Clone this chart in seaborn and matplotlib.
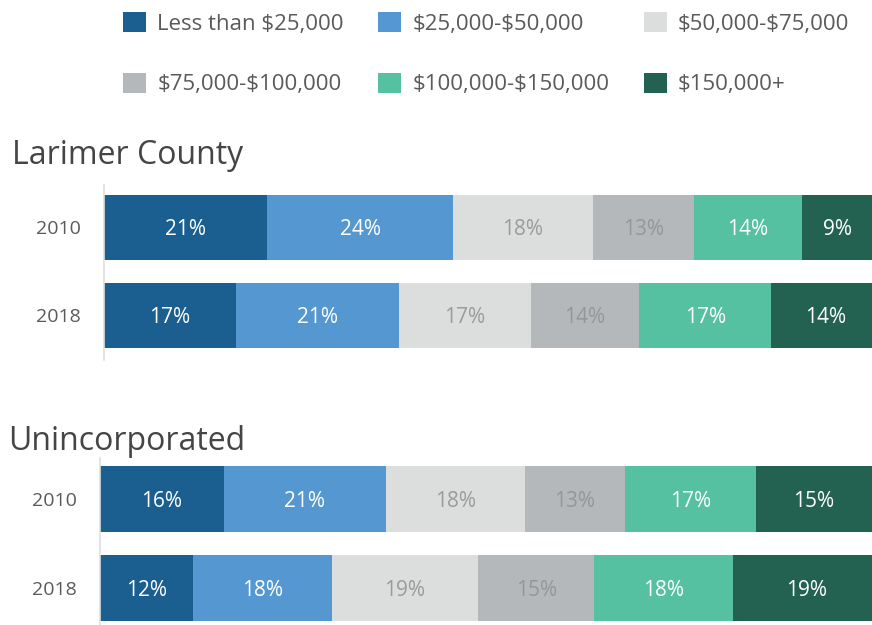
import matplotlib
matplotlib.use("Agg")
import matplotlib.pyplot as plt
from matplotlib.patches import Patch
import seaborn as sns

# income brackets and shares (%)
brackets = ["Less than \\$25,000", "\\$25,000-\\$50,000", "\\$50,000-\\$75,000",
            "\\$75,000-\\$100,000", "\\$100,000-\\$150,000", "\\$150,000+"]
years = ["2010", "2018"]
larimer_2010 = [21, 24, 18, 13, 14, 9]
larimer_2018 = [17, 21, 17, 14, 17, 14]
uninc_2010 = [16, 21, 18, 13, 17, 15]
uninc_2018 = [12, 18, 19, 15, 18, 19]

colors = ["#1a5f90", "#5597d0", "#dcdedd", "#b5b8bb", "#55c1a0", "#236250"]
text_colors = ["white", "white", "#9b9b9b", "#969696", "white", "white"]

sns.set_style("white")
plt.rcParams["font.family"] = ["Open Sans", "DejaVu Sans"]

fig = plt.figure(figsize=(8.72, 6.25), dpi=100)


def stacked(ax, rows, title, title_x, title_y):
    for i, row in enumerate(rows):
        left = 0
        for j, v in enumerate(row):
            ax.barh(i, v, left=left, height=0.74, color=colors[j], linewidth=0)
            ax.text(left + v / 2, i, f"{v}%", ha="center", va="center_baseline",
                    fontsize=15, color=text_colors[j])
            left += v
    ax.set_xlim(0, min(sum(r) for r in rows))
    ax.set_yticks(range(len(years)))
    ax.set_yticklabels(years, fontsize=14, color="#5a5a5a")
    ax.tick_params(axis="y", length=0, pad=17)
    ax.set_xticks([])
    for s in ["top", "right", "bottom"]:
        ax.spines[s].set_visible(False)
    ax.spines["left"].set_color("#dedede")
    ax.spines["left"].set_linewidth(1.2)
    fig.text(title_x, title_y, title, fontsize=23, color="#454545",
             ha="left", va="center")


ax1 = fig.add_axes([104 / 872, 1 - 360 / 625, 768 / 872, 175 / 625])
stacked(ax1, [larimer_2010, larimer_2018], "Larimer County", 12 / 872, 1 - 156 / 625)
ax1.set_ylim(1.51, -0.48)

ax2 = fig.add_axes([100 / 872, 0, 772 / 872, 167 / 625])
stacked(ax2, [uninc_2010, uninc_2018], "Unincorporated", 8 / 872, 1 - 441 / 625)
ax2.set_ylim(1.42, -0.46)

# legend fills column by column, so reorder to read row by row
order = [0, 3, 1, 4, 2, 5]
handles = [Patch(facecolor=colors[k], edgecolor="none") for k in order]
labels = [brackets[k] for k in order]
fig.legend(handles, labels, ncol=3, loc="upper left",
           bbox_to_anchor=(103 / 872, 1 + 8 / 625), frameon=False,
           fontsize=16, labelcolor="#5a5a5a", handlelength=1.04,
           handleheight=1.04, handletextpad=0.5, columnspacing=1.55,
           labelspacing=1.7)

fig.savefig("out.png", dpi=100)
